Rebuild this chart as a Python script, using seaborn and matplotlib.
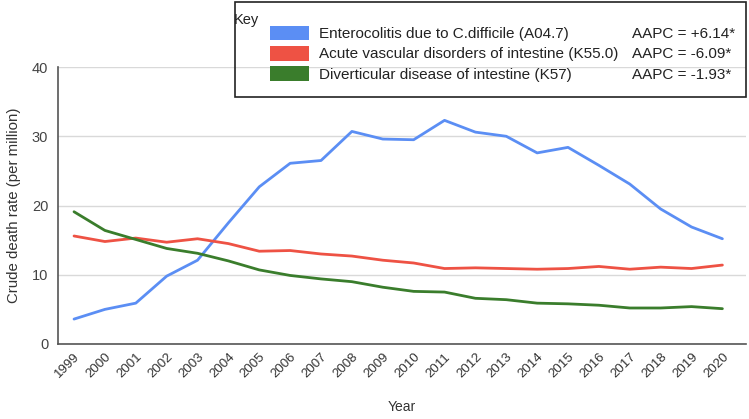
import matplotlib
matplotlib.use("Agg")
import matplotlib.pyplot as plt
import matplotlib.transforms as mtransforms
from matplotlib.patches import Patch, Rectangle
import pandas as pd
import seaborn as sns

# Data
years = list(range(1999, 2021))
c_difficile = [3.6, 5.0, 5.9, 9.8, 12.1, 17.5, 22.7, 26.1, 26.5, 30.7, 29.6,
               29.5, 32.3, 30.6, 30.0, 27.6, 28.4, 25.8, 23.1, 19.5, 16.9, 15.2]
vascular = [15.6, 14.8, 15.3, 14.7, 15.2, 14.5, 13.4, 13.5, 13.0, 12.7, 12.1,
            11.7, 10.9, 11.0, 10.9, 10.8, 10.9, 11.2, 10.8, 11.1, 10.9, 11.4]
diverticular = [19.1, 16.4, 15.1, 13.8, 13.1, 12.0, 10.7, 9.9, 9.4, 9.0, 8.2,
                7.6, 7.5, 6.6, 6.4, 5.9, 5.8, 5.6, 5.2, 5.2, 5.4, 5.1]

series_names = ["Enterocolitis due to C.difficile (A04.7)",
                "Acute vascular disorders of intestine (K55.0)",
                "Diverticular disease of intestine (K57)"]
aapc_labels = ["AAPC = +6.14*", "AAPC = -6.09*", "AAPC = -1.93*"]
colors = ["#5b8ef4", "#ee5244", "#3a7d2c"]

df = pd.concat([
    pd.DataFrame({"Year": years, "rate": vals, "series": name})
    for name, vals in zip(series_names, [c_difficile, vascular, diverticular])
])

sns.set_style("white")
plt.rcParams["font.family"] = ["Liberation Sans", "DejaVu Sans"]

fig = plt.figure(figsize=(7.49, 4.19), dpi=100)
ax = fig.add_axes([0.0774, 0.179, 0.918, 0.661])

sns.lineplot(data=df, x="Year", y="rate", hue="series", hue_order=series_names,
             palette=colors, linewidth=2, ax=ax, legend=False)

ax.set_xlim(1998.48, 2020.75)
ax.set_ylim(0, 40)
ax.set_yticks([0, 10, 20, 30, 40])
ax.set_xticks(years)
ax.set_xticklabels([str(y) for y in years], rotation=45, ha="right",
                   rotation_mode="anchor", fontsize=9.5, color="#333333")
shift = mtransforms.ScaledTranslation(6 / 100, 0, fig.dpi_scale_trans)
for lbl in ax.get_xticklabels():
    lbl.set_transform(lbl.get_transform() + shift)
ax.tick_params(axis="y", labelsize=10.5, labelcolor="#444444", length=0, pad=7)
ax.tick_params(axis="x", length=0, pad=5)
ax.grid(axis="y", color="#d9d9d9", linewidth=1)
ax.set_axisbelow(True)
for side in ["top", "right"]:
    ax.spines[side].set_visible(False)
for side in ["left", "bottom"]:
    ax.spines[side].set_color("#555555")
    ax.spines[side].set_linewidth(1.2)
ax.set_ylabel("Crude death rate (per million)", fontsize=10.8, color="#333333",
              labelpad=8)
ax.set_xlabel("Year", fontsize=10, color="#333333", labelpad=14)

# Key box
fig.add_artist(Rectangle((235 / 749, 1 - 97 / 419), 511 / 749, 95 / 419,
                         transform=fig.transFigure, fill=False,
                         edgecolor="#222222", linewidth=1.2))
fig.text(234 / 749, 1 - 20 / 419, "Key", fontsize=10.5, va="center",
         color="#222222")

handles = [Patch(facecolor=c, edgecolor="none") for c in colors]
blank = [Patch(facecolor="none", edgecolor="none") for _ in colors]
fig.legend(handles + blank, series_names + aapc_labels, ncol=2,
           loc="upper left", bbox_to_anchor=(256 / 749, 1 - 12 / 419),
           frameon=False, fontsize=11, handlelength=2.6, handleheight=1.1,
           handletextpad=0.6, columnspacing=-2.3, labelspacing=0.3,
           labelcolor="#222222")

fig.savefig("out.png", dpi=100)
